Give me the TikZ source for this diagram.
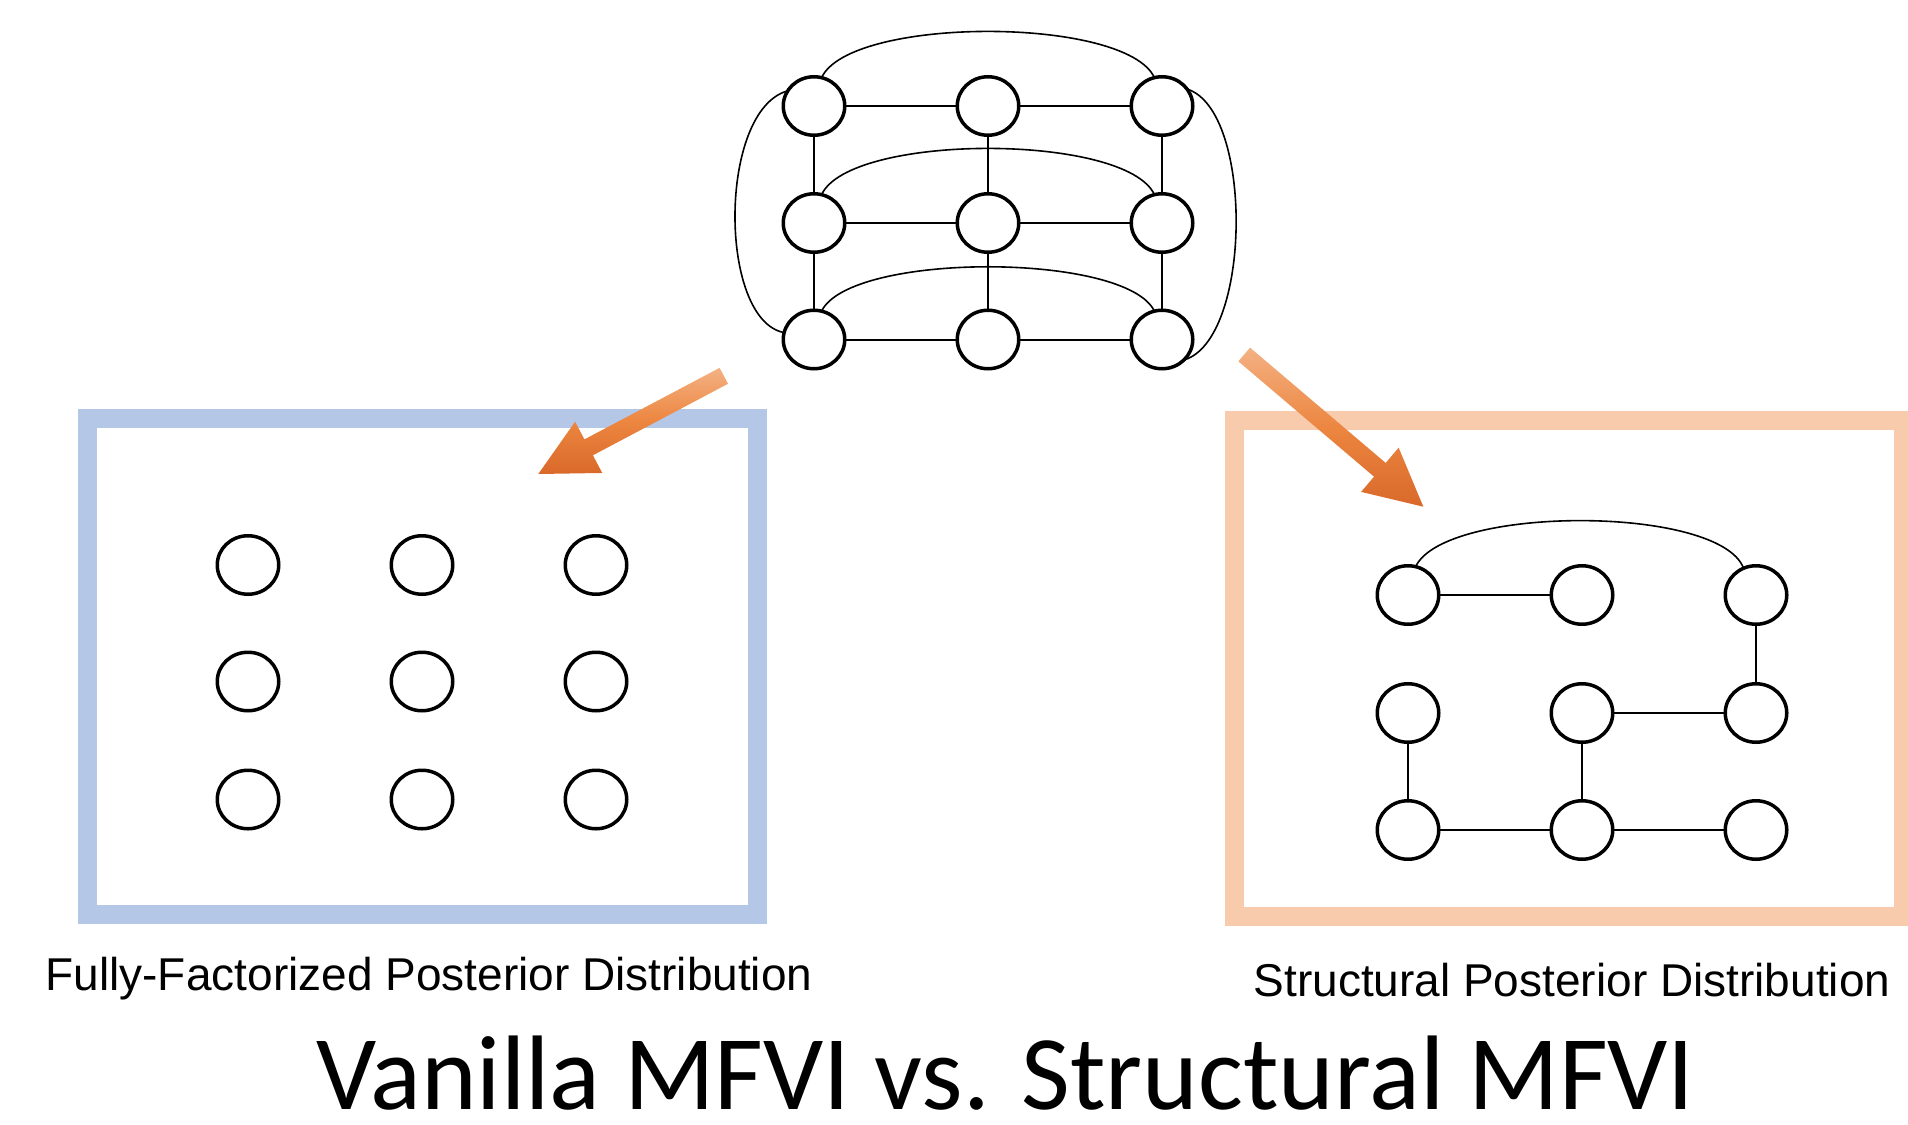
\documentclass[tikz,border=0pt]{standalone}
\usepackage{fontspec}
\setmainfont{Liberation Sans}
\newfontfamily\titlefont{Carlito}
\usetikzlibrary{shapes.geometric,calc}
\definecolor{boxblue}{HTML}{B4C7E7}
\definecolor{boxpeach}{HTML}{F8CBAD}
\definecolor{arrlight}{HTML}{F4B183}
\definecolor{arrmid}{HTML}{EC8640}
\definecolor{arrdark}{HTML}{D9692A}
\begin{document}
\begin{tikzpicture}[x=1pt,y=-1pt,
  gnode/.style={draw, ellipse, line width=3.5pt, minimum width=61.5pt, minimum height=58.5pt, inner sep=0pt, outer sep=0pt, fill=white},
  gline/.style={line width=2pt},
  garc/.style={line width=1.6pt},
  boxline/.style={line width=19pt, fill=white},
  lbl/.style={inner sep=0pt, outer sep=0pt, anchor=base, font=\fontsize{46pt}{52pt}\selectfont},
  arrowshade/.style={top color=arrlight, bottom color=arrdark, middle color=arrmid}
]
\fill[white] (0,0) rectangle (1908,1124);
\clip (0,0) rectangle (1908,1124);
\useasboundingbox (0,0) rectangle (1908,1124);

% boxes
\draw[boxline, draw=boxblue] (87,418) rectangle (757,914);
\draw[boxline, draw=boxpeach] (1234,420) rectangle (1903.5,916);

% top graph
\foreach \r/\y in {1/106,2/223,3/339.5}
  \foreach \c/\x in {1/814,2/988,3/1162}
    \node[gnode] (t\r\c) at (\x,\y) {};
\foreach \r in {1,2,3} {
  \draw[gline] (t\r1) -- (t\r2);
  \draw[gline] (t\r2) -- (t\r3);
}
\foreach \c in {1,2,3} {
  \draw[gline] (t1\c) -- (t2\c);
  \draw[gline] (t2\c) -- (t3\c);
}
\draw[garc] (t11.75) .. controls (850,16) and (1126,16) .. (t13.105);
\draw[garc] (t21.75) .. controls (850,133) and (1126,133) .. (t23.105);
\draw[garc] (t31.75) .. controls (850,252) and (1126,252) .. (t33.105);
\draw[garc] (t11.150) .. controls (718,110) and (718,320) .. (t31.167);
\draw[garc] (t13.34) .. controls (1254,110) and (1252,340) .. (t33.317);

% fully factorized nodes
\foreach \r/\y in {1/565,2/681.5,3/799.5}
  \foreach \c/\x in {1/248,2/422,3/596}
    \node[gnode] (f\r\c) at (\x,\y) {};

% structural nodes
\foreach \r/\y in {1/595,2/713,3/830}
  \foreach \c/\x in {1/1408,2/1582,3/1756}
    \node[gnode] (s\r\c) at (\x,\y) {};
\draw[gline] (s11) -- (s12);
\draw[gline] (s13) -- (s23);
\draw[gline] (s22) -- (s23);
\draw[gline] (s21) -- (s31);
\draw[gline] (s22) -- (s32);
\draw[gline] (s31) -- (s32);
\draw[gline] (s32) -- (s33);
\draw[garc] (s11.75) .. controls (1445,505) and (1720,505) .. (s13.115);

% arrows
\coordinate (lt) at (723.8,375.8);
\coordinate (lp) at (538.3,474);
\coordinate (lb) at ($(lp)!57pt!(lt)$);
\shade[arrowshade] ($(lt)!9pt!90:(lp)$) -- ($(lb)!9pt!90:(lp)$) -- ($(lb)!29pt!90:(lp)$) -- (lp)
  -- ($(lb)!29pt!-90:(lp)$) -- ($(lb)!9pt!-90:(lp)$) -- ($(lt)!9pt!-90:(lp)$) -- cycle;

\coordinate (rt) at (1244.2,354.5);
\coordinate (rp) at (1423.3,506.7);
\coordinate (rb) at ($(rp)!57pt!(rt)$);
\shade[arrowshade] ($(rt)!9pt!90:(rp)$) -- ($(rb)!9pt!90:(rp)$) -- ($(rb)!29pt!90:(rp)$) -- (rp)
  -- ($(rb)!29pt!-90:(rp)$) -- ($(rb)!9pt!-90:(rp)$) -- ($(rt)!9pt!-90:(rp)$) -- cycle;

% labels
\node[lbl] (lab1) at (429,990.5) {Fully-Factorized Posterior Distribution};
\node[lbl] (lab2) at (1572,996.6) {Structural Posterior Distribution};
\node[inner sep=0pt, outer sep=0pt, anchor=base, font=\titlefont\fontsize{106pt}{120pt}\selectfont] (title) at (1005.6,1109.7) {Vanilla MFVI vs. Structural MFVI};
\end{tikzpicture}
\end{document}
